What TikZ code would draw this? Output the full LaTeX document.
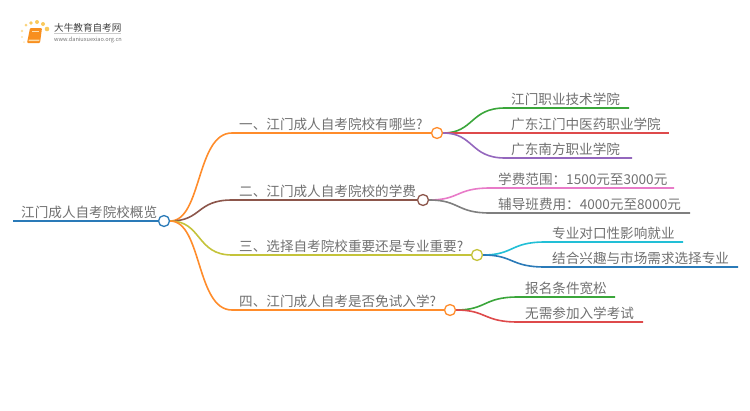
\documentclass[tikz,border=0pt]{standalone}
\usepackage{fontspec}
\setmainfont{Noto Sans CJK SC}
\usepackage{tikz}
\usetikzlibrary{positioning}
\definecolor{cblue}{HTML}{2A7AB8}
\definecolor{corange}{HTML}{FF8C2B}
\definecolor{cbrown}{HTML}{8C564B}
\definecolor{colive}{HTML}{C4C33A}
\definecolor{cgreen}{HTML}{3AA63A}
\definecolor{cred}{HTML}{DE4A4B}
\definecolor{cpurple}{HTML}{9467BD}
\definecolor{cpink}{HTML}{E87BC8}
\definecolor{cgrey}{HTML}{7F7F7F}
\definecolor{ccyan}{HTML}{22BFD6}
\definecolor{ctext}{HTML}{707070}
\definecolor{cbook}{HTML}{F7A823}
\definecolor{cdot}{HTML}{F9C95C}
\tikzset{
  hub/.style={draw,circle,fill=white,line width=1.3pt,minimum size=11pt,inner sep=0pt},
  lab/.style={anchor=base west,inner sep=0pt,text=ctext,font=\fontsize{13.6pt}{14pt}\selectfont},
  bar/.style={line width=1.6pt},
  dot/.style={circle,inner sep=0pt,fill=cdot}
}
\begin{document}
\begin{tikzpicture}[x=1pt,y=-1pt]
\useasboundingbox (0,0) rectangle (750,410);
% logo
\node[dot,minimum size=4.6pt] (d1) at (47,29) {};
\node[dot,minimum size=4pt] (d2) at (43,24) {};
\node[dot,minimum size=4pt] (d3) at (37,22) {};
\node[dot,minimum size=3.6pt] (d4) at (31,23) {};
\node[dot,minimum size=3pt,opacity=0.8] (d5) at (26,25) {};
\node[dot,minimum size=2.6pt,opacity=0.6] (d6) at (22,31) {};
\node[dot,minimum size=2.2pt,opacity=0.5] (d7) at (22,37) {};
\node[dot,minimum size=2pt,opacity=0.4] (d8) at (24,42) {};
\fill[cbook!85!red,rounded corners=1pt] (30,28) -- (42,28) -- (40,43) -- (27,43) -- cycle;
\fill[cbook!40!white] (29,39.5) -- (39.5,39.5) -- (39.2,41) -- (28.6,41) -- cycle;
\draw[cbook!35!white,line width=0.7pt] (32,31) -- (39,31);
\node[anchor=base west,inner sep=0pt,text=black!75,font=\fontsize{9.6pt}{10pt}\selectfont] (logo) at (54,31.5) {大牛教育自考网};
\node[anchor=base west,inner sep=0pt,text=black!55,font=\fontsize{5.6pt}{6pt}\selectfont] (url) at (54,41) {www.daniuxuexiao.org.cn};
\draw[black!20,line width=0.4pt] (logo.base west)++(0,2) -- ++(67,0);
% hubs
\node[hub,draw=cblue] (root) at (164,221) {};
\node[hub,draw=corange] (n1) at (437,133) {};
\node[hub,draw=cbrown] (n2) at (423,200) {};
\node[hub,draw=colive] (n3) at (477,255) {};
\node[hub,draw=corange] (n4) at (450,310) {};
% labels
\node[lab] (t0) at (21,217.5) {江门成人自考院校概览};
\node[lab] (t1) at (239,129.5) {一、江门成人自考院校有哪些?};
\node[lab] (t2) at (239,196.5) {二、江门成人自考院校的学费};
\node[lab] (t3) at (239,251) {三、选择自考院校重要还是专业重要?};
\node[lab] (t4) at (239,306) {四、江门成人自考是否免试入学?};
\node[lab] (t11) at (511,104.5) {江门职业技术学院};
\node[lab] (t12) at (511,129.5) {广东江门中医药职业学院};
\node[lab] (t13) at (511,154) {广东南方职业学院};
\node[lab] (t21) at (498,184) {学费范围：1500元至3000元};
\node[lab] (t22) at (498,209) {辅导班费用：4000元至8000元};
\node[lab] (t31) at (552,238.5) {专业对口性影响就业};
\node[lab] (t32) at (552,263.5) {结合兴趣与市场需求选择专业};
\node[lab] (t41) at (525,293.5) {报名条件宽松};
\node[lab] (t42) at (525,318.5) {无需参加入学考试};
% line ends
\coordinate (e0) at (13,221);
\coordinate (s1) at (232,133);
\coordinate (s2) at (232,200);
\coordinate (s3) at (232,255);
\coordinate (s4) at (232,310);
\coordinate (e11) at (629,108);
\coordinate (e12) at (669,133);
\coordinate (e13) at (632,158);
\coordinate (e21) at (674,188);
\coordinate (e22) at (690,213);
\coordinate (e31) at (683,242);
\coordinate (e32) at (738,267);
\coordinate (e41) at (615,297);
\coordinate (e42) at (643,322);
% root
\draw[bar,cblue] (e0) to (root);
\draw[bar,corange] (root.east) .. controls (202,221) and (196,133) .. (s1) -- (n1);
\draw[bar,cbrown] (root.east) .. controls (202,221) and (196,200) .. (s2) -- (n2);
\draw[bar,colive] (root.east) .. controls (202,221) and (196,255) .. (s3) -- (n3);
\draw[bar,corange] (root.east) .. controls (202,221) and (196,310) .. (s4) -- (n4);
% leaves
\draw[bar,cgreen] (n1.east) .. controls (474,133) and (470,108) .. (505,108) -- (e11);
\draw[bar,cred] (n1.east) to (e12);
\draw[bar,cpurple] (n1.east) .. controls (474,133) and (470,158) .. (505,158) -- (e13);
\draw[bar,cpink] (n2.east) .. controls (460,200) and (456,188) .. (490,188) -- (e21);
\draw[bar,cgrey] (n2.east) .. controls (460,200) and (456,213) .. (490,213) -- (e22);
\draw[bar,ccyan] (n3.east) .. controls (514,255) and (510,242) .. (545,242) -- (e31);
\draw[bar,cblue] (n3.east) .. controls (514,255) and (510,267) .. (545,267) -- (e32);
\draw[bar,cgreen] (n4.east) .. controls (487,310) and (483,297) .. (518,297) -- (e41);
\draw[bar,cred] (n4.east) .. controls (487,310) and (483,322) .. (518,322) -- (e42);
\end{tikzpicture}
\end{document}
